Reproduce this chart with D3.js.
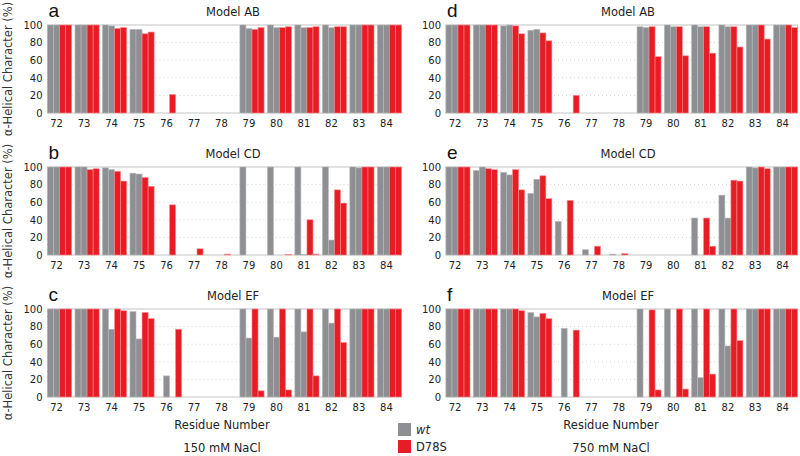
<!DOCTYPE html>
<html><head><meta charset="utf-8">
<script src="https://cdn.jsdelivr.net/npm/d3@7"></script>
<style>
html,body{margin:0;padding:0;background:#fff;}
svg{display:block;font-family:"DejaVu Sans",sans-serif;}
</style></head>
<body><svg id="chart" width="800" height="456"></svg>
<script>
const residues = [72,73,74,75,76,77,78,79,80,81,82,83,84];
const yTicks = [0,20,40,60,80,100];
const seriesNames = ["wt","D78S"];
const conditions = ["150 mM NaCl","750 mM NaCl"];

// Model AB, 150 mM NaCl
const AB150_wtA  = [100,100,100,95,0,0,0,100,100,100,100,100,100];
const AB150_wtB  = [100,100,99,95,0,0,0,96,97,97,97,100,100];
const AB150_mutA = [100,100,96,90,21,0,0,95,97,97,98,100,100];
const AB150_mutB = [100,100,97,92,0,0,0,97,98,98,98,100,100];
// Model CD, 150 mM NaCl
const CD150_wtA  = [100,100,99,93,0,0,0,100,100,100,100,100,100];
const CD150_wtB  = [100,100,97,92,0,0,0,0,0,0.5,17,99,100];
const CD150_mutA = [100,97,95,88,57,7,1,0,0,40,74,100,100];
const CD150_mutB = [100,98,84,78,0,0,0,0,0.5,1,59,100,100];
// Model EF, 150 mM NaCl
const EF150_wtA  = [100,100,100,97,0,0,0,100,100,100,100,100,100];
const EF150_wtB  = [100,100,77,66,24,0,0,67,68,74,84,100,100];
const EF150_mutA = [100,100,100,96,0,0,0,100,100,100,100,100,100];
const EF150_mutB = [100,100,98,89,77,0,0,7,8,24,62,100,100];
// Model AB, 750 mM NaCl
const AB750_wtA  = [100,100,99,94,0,0,0,98,100,100,100,100,100];
const AB750_wtB  = [100,100,100,95,0,0,0,97,98,98,98,100,100];
const AB750_mutA = [100,100,99,91,0,0,0,98,98,98,98,100,100];
const AB750_mutB = [100,100,90,82,20,0,0,64,65,68,75,84,97];
// Model CD, 750 mM NaCl
const CD750_wtA  = [100,96,94,70,38,6,1,0,0,42,68,100,100];
const CD750_wtB  = [100,100,91,86,0,0,0,0,0,0,42,99,100];
const CD750_mutA = [100,98,97,90,62,10,1.5,0,0,42,85,100,100];
const CD750_mutB = [100,97,74,64,0,0,0,0,0,10,84,98,100];
// Model EF, 750 mM NaCl
const EF750_wtA  = [100,100,100,96,0,0,0,100,100,100,100,100,100];
const EF750_wtB  = [100,100,100,91,78,0,0,0,0,22,58,100,100];
const EF750_mutA = [100,100,100,95,0,0,0,99,100,100,100,100,100];
const EF750_mutB = [100,100,98,89,76,0,0,8,9,26,64,100,100];

const panels = [
  {letter:"a", title:"Model AB", col:0, row:0, s:[AB150_wtA,AB150_wtB,AB150_mutA,AB150_mutB]},
  {letter:"b", title:"Model CD", col:0, row:1, s:[CD150_wtA,CD150_wtB,CD150_mutA,CD150_mutB]},
  {letter:"c", title:"Model EF", col:0, row:2, s:[EF150_wtA,EF150_wtB,EF150_mutA,EF150_mutB]},
  {letter:"d", title:"Model AB", col:1, row:0, s:[AB750_wtA,AB750_wtB,AB750_mutA,AB750_mutB]},
  {letter:"e", title:"Model CD", col:1, row:1, s:[CD750_wtA,CD750_wtB,CD750_mutA,CD750_mutB]},
  {letter:"f", title:"Model EF", col:1, row:2, s:[EF750_wtA,EF750_wtB,EF750_mutA,EF750_mutB]}
];

const svg = d3.select("#chart");
const colX = [[47.5,401.5],[446,797.5]];
const titleX = [233, 628];
const rowTop = [25,167,309];
const plotH = 88;
const fills = ["#8e8f93","#8e8f93","#e81c24","#e81c24"];
const strokes = ["#b9babd","#b9babd","#f7898b","#f7898b"];

panels.forEach(p => {
  const [x0,x1] = colX[p.col];
  const top = rowTop[p.row], bot = top + plotH;
  const x = d3.scaleBand().domain(residues).range([x0,x1]).paddingInner(0.12).paddingOuter(0);
  const xs = d3.scaleBand().domain([0,1,2,3]).range([0,x.bandwidth()]).padding(0);
  const y = d3.scaleLinear().domain([0,100]).range([bot,top]);
  const g = svg.append("g");

  // gridlines
  g.selectAll("line.grid").data(yTicks.filter(t=>t>0&&t<100)).join("line")
    .attr("x1",x0).attr("x2",x1).attr("y1",d=>y(d)).attr("y2",d=>y(d))
    .attr("stroke","#c8c8c8").attr("stroke-width",0.8).attr("stroke-dasharray","1,3");

  // frame
  g.append("rect").attr("x",x0).attr("y",top).attr("width",x1-x0).attr("height",plotH)
    .attr("fill","none").attr("stroke","#c4c4c4").attr("stroke-width",1);

  // bars
  const data = [];
  residues.forEach((r,i)=>p.s.forEach((arr,k)=>data.push({r,k,v:arr[i]})));
  g.selectAll("rect.bar").data(data.filter(d=>d.v>0)).join("rect")
    .attr("x",d=>x(d.r)+xs(d.k)).attr("width",xs.bandwidth())
    .attr("y",d=>y(d.v)).attr("height",d=>bot-y(d.v))
    .attr("fill",d=>fills[d.k]).attr("stroke",d=>strokes[d.k]).attr("stroke-width",0.6);

  // y axis labels
  const yAxis = d3.axisLeft(y).tickValues(yTicks).tickSize(0).tickPadding(5);
  const ya = g.append("g").attr("transform",`translate(${x0},0)`).call(yAxis);
  ya.select(".domain").remove();
  ya.selectAll("text").attr("font-size",10).attr("fill","#222").attr("font-family","DejaVu Sans");

  // x axis labels (centered on wt pair)
  const xa = g.append("g").attr("transform",`translate(${xs.bandwidth()/2},${bot})`)
    .call(d3.axisBottom(x).tickSize(0).tickPadding(7));
  xa.select(".domain").remove();
  xa.selectAll("text").attr("font-size",10).attr("fill","#222").attr("font-family","DejaVu Sans")
    .attr("transform",`translate(${-x.bandwidth()/2+xs.bandwidth()},0)`);

  // panel letter and title
  g.append("text").attr("x",x0+1).attr("y",top-8).attr("font-size",19).attr("fill","#111")
    .attr("font-family","Liberation Sans, Arial, sans-serif").text(p.letter);
  g.append("text").attr("x",titleX[p.col]).attr("y",top-9).attr("text-anchor","middle")
    .attr("font-size",11.5).attr("fill","#222").text(p.title);

  if (p.col===0) {
    g.append("text").attr("transform",`translate(12,${(top+bot)/2}) rotate(-90)`)
      .attr("text-anchor","middle").attr("font-size",11.5).attr("fill","#333")
      .text("α-Helical Character (%)");
  }
});

// bottom labels
[0,1].forEach(c=>{
  const cx = [222,611][c];
  svg.append("text").attr("x",cx).attr("y",429).attr("text-anchor","middle")
    .attr("font-size",11.5).attr("fill","#222").text("Residue Number");
  svg.append("text").attr("x",cx).attr("y",452).attr("text-anchor","middle")
    .attr("font-size",11.5).attr("fill","#222").text(conditions[c]);
});

// legend
const leg = svg.append("g");
seriesNames.forEach((n,i)=>{
  leg.append("rect").attr("x",398).attr("y",423+i*17).attr("width",13).attr("height",13)
    .attr("fill",i===0?"#8e8f93":"#e81c24");
  leg.append("text").attr("x",416).attr("y",434+i*17).attr("font-size",11.5).attr("fill","#222")
    .attr("font-style",i===0?"italic":"normal").text(n);
});
</script></body></html>
